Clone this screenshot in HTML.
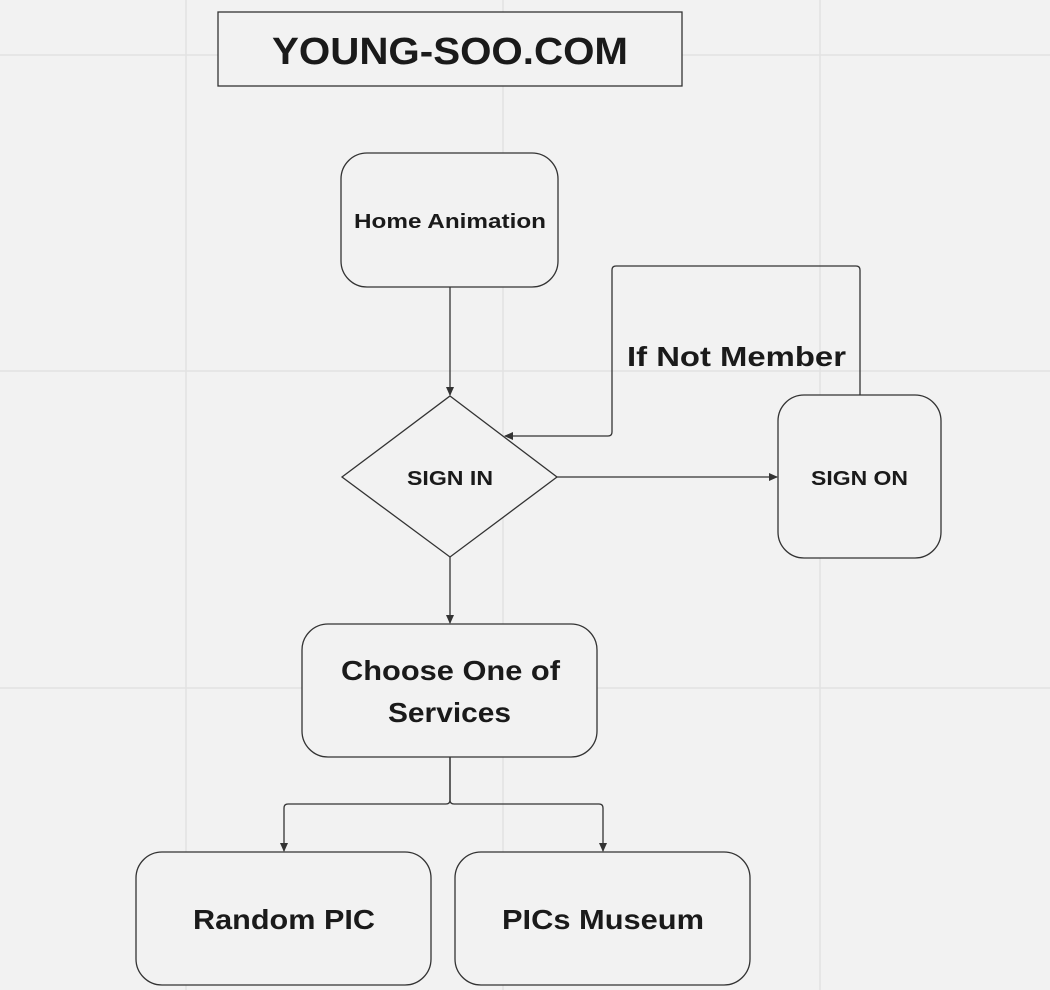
<!DOCTYPE html>
<html><head><meta charset="utf-8"><style>
html,body{margin:0;padding:0;background:#f2f2f2;}
svg{display:block;}
text{font-family:"Liberation Sans",sans-serif;font-weight:bold;fill:#1a1a1a;}
</style></head><body>
<svg width="1050" height="990" viewBox="0 0 1050 990" xmlns="http://www.w3.org/2000/svg">
<defs><marker id="a" markerWidth="10" markerHeight="10" refX="8" refY="5" orient="auto" markerUnits="userSpaceOnUse"><path d="M0,1 L9,5 L0,9 Z" fill="#333"/></marker></defs>
<rect width="1050" height="990" fill="#f2f2f2"/>
<g stroke="#e2e2e2" stroke-width="1.5">
<line x1="186" y1="0" x2="186" y2="990"/><line x1="503" y1="0" x2="503" y2="990"/><line x1="820" y1="0" x2="820" y2="990"/>
<line x1="0" y1="55" x2="1050" y2="55"/><line x1="0" y1="371" x2="1050" y2="371"/><line x1="0" y1="688" x2="1050" y2="688"/>
</g>
<g fill="#f2f2f2" stroke="#333" stroke-width="1.3">
<rect x="218" y="12" width="464" height="74"/>
<rect x="341" y="153" width="217" height="134" rx="26"/>
<polygon points="450,396 557,477 450,557 342,477"/>
<rect x="778" y="395" width="163" height="163" rx="26"/>
<rect x="302" y="624" width="295" height="133" rx="26"/>
<rect x="136" y="852" width="295" height="133" rx="26"/>
<rect x="455" y="852" width="295" height="133" rx="26"/>
</g>
<g fill="none" stroke="#333" stroke-width="1.3">
<line x1="450" y1="287" x2="450" y2="395" marker-end="url(#a)"/>
<line x1="557" y1="477" x2="777" y2="477" marker-end="url(#a)"/>
<line x1="450" y1="557" x2="450" y2="623" marker-end="url(#a)"/>
<path d="M860,395 V270 Q860,266 856,266 H616 Q612,266 612,270 V432 Q612,436 608,436 H505" marker-end="url(#a)"/>
<path d="M450,757 V800 Q450,804 446,804 H288 Q284,804 284,808 V851" marker-end="url(#a)"/>
<path d="M450,757 V800 Q450,804 454,804 H599 Q603,804 603,808 V851" marker-end="url(#a)"/>
</g>
<g>
<text x="272" y="64" font-size="38" textLength="356" lengthAdjust="spacingAndGlyphs">YOUNG-SOO.COM</text>
<text x="354" y="228" font-size="20" textLength="192" lengthAdjust="spacingAndGlyphs">Home Animation</text>
<text x="407" y="485" font-size="20" textLength="86" lengthAdjust="spacingAndGlyphs">SIGN IN</text>
<text x="811" y="485" font-size="20" textLength="97" lengthAdjust="spacingAndGlyphs">SIGN ON</text>
<text x="341" y="680" font-size="28" textLength="219" lengthAdjust="spacingAndGlyphs">Choose One of</text>
<text x="388" y="722" font-size="28" textLength="123" lengthAdjust="spacingAndGlyphs">Services</text>
<text x="193" y="929" font-size="28" textLength="182" lengthAdjust="spacingAndGlyphs">Random PIC</text>
<text x="502" y="929" font-size="28" textLength="202" lengthAdjust="spacingAndGlyphs">PICs Museum</text>
<text x="627" y="366" font-size="28" textLength="219" lengthAdjust="spacingAndGlyphs">If Not Member</text>
</g>
</svg>
</body></html>
